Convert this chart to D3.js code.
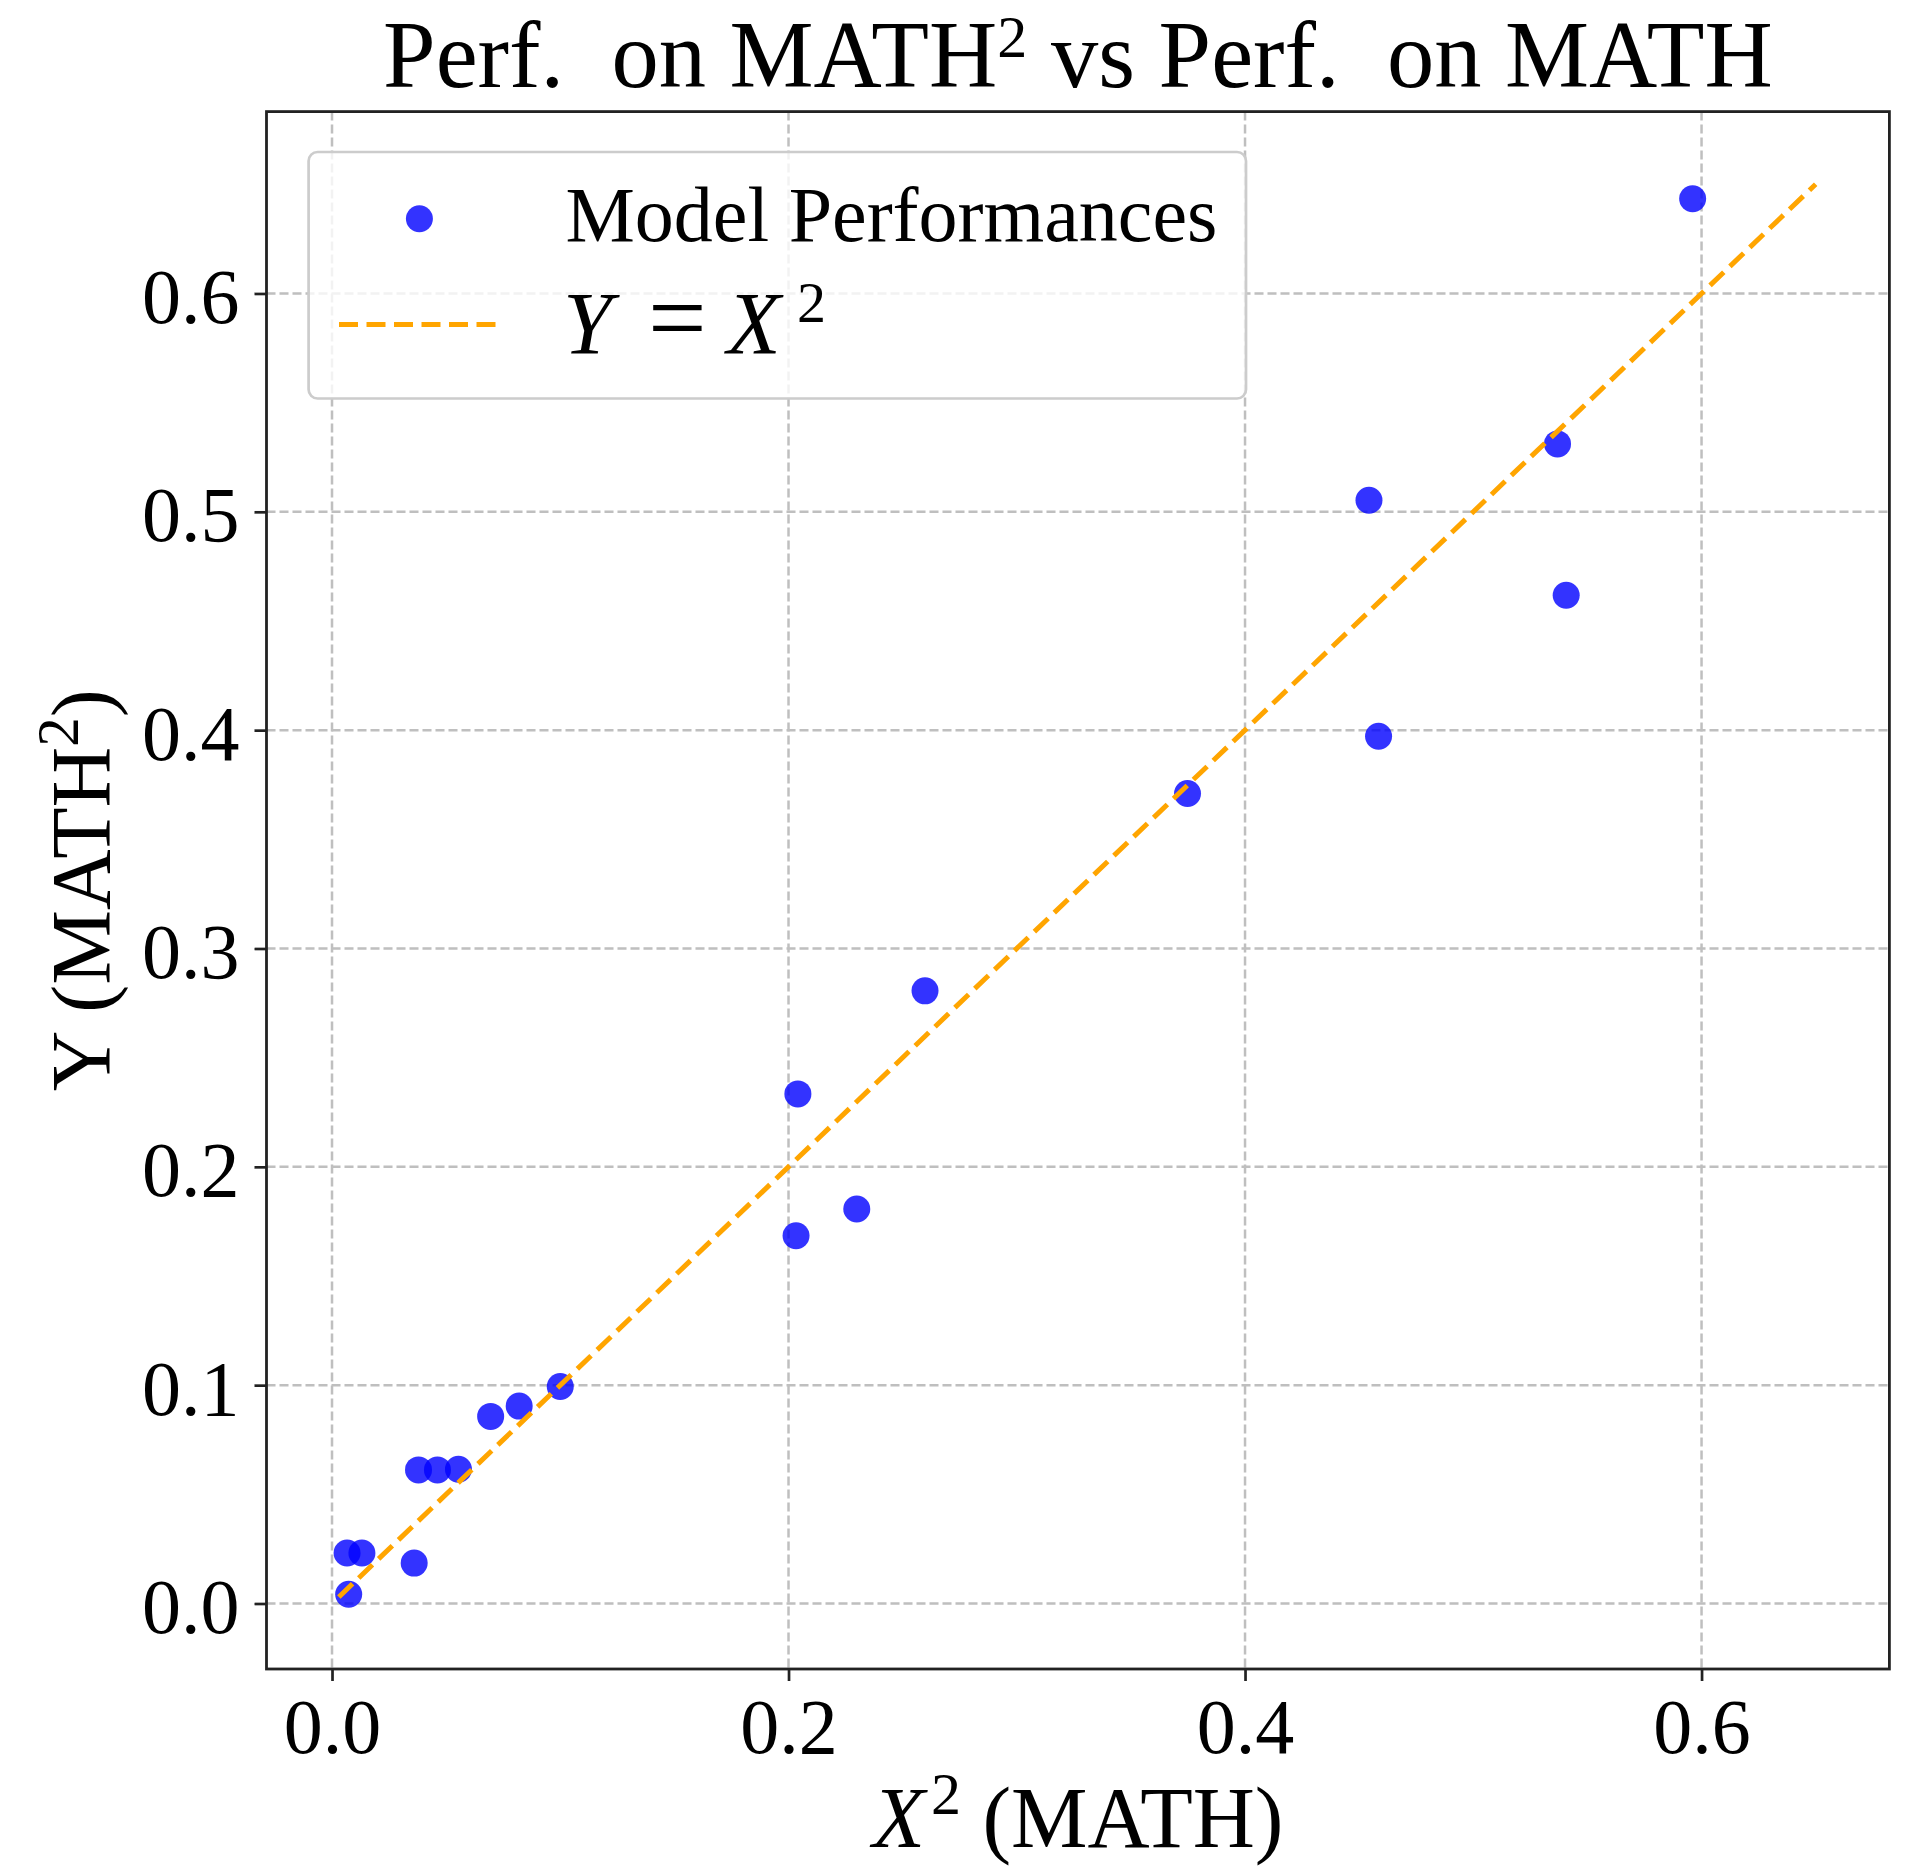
<!DOCTYPE html>
<html>
<head>
<meta charset="utf-8">
<title>Perf. on MATH2 vs Perf. on MATH</title>
<script src="https://d3js.org/d3.v7.min.js"></script>
<style>
  body { margin: 0; background: #fff; }
  text { font-family: "Liberation Serif", "DejaVu Serif", serif; fill: #000; }
</style>
</head>
<body>
<script>
// values
var mathX = [0.0073, 0.0066, 0.0131, 0.0360, 0.0379, 0.0462, 0.0554, 0.0695, 0.0820, 0.1000,
             0.2033, 0.2041, 0.2299, 0.2598, 0.3748, 0.4543, 0.4585, 0.5369, 0.5407, 0.5961];
var math2Y = [0.0042, 0.0231, 0.0231, 0.0185, 0.0612, 0.0612, 0.0615, 0.0857, 0.0904, 0.0994,
              0.1684, 0.2334, 0.1807, 0.2806, 0.3710, 0.5053, 0.3972, 0.5311, 0.4618, 0.6434];
var refLineX = [0.003, 0.65];
var xTicks = [0, 0.2, 0.4, 0.6];
var yTicks = [0, 0.1, 0.2, 0.3, 0.4, 0.5, 0.6];

var W = 1920, H = 1866;
var margin = { top: 111.6, right: 30.6, bottom: 197, left: 266.5 },
    width = W - margin.left - margin.right,
    height = H - margin.top - margin.bottom;

var x = d3.scaleLinear().domain([-0.0287, 0.6823]).range([0, width]);
var y = d3.scaleLinear().domain([-0.0300, 0.6833]).range([height, 0]);

var svg = d3.select("body").append("svg")
    .attr("width", W)
    .attr("height", H);

var g = svg.append("g")
    .attr("transform", "translate(" + margin.left + "," + margin.top + ")");

// grid
var grid = g.append("g")
    .attr("stroke", "#b0b0b0")
    .attr("stroke-width", 2.5)
    .attr("stroke-dasharray", "9,4")
    .attr("opacity", 0.8);
grid.selectAll(".gx").data(xTicks).enter().append("line")
    .attr("x1", function(d) { return x(d); })
    .attr("x2", function(d) { return x(d); })
    .attr("y1", 0).attr("y2", height);
grid.selectAll(".gy").data(yTicks).enter().append("line")
    .attr("y1", function(d) { return y(d); })
    .attr("y2", function(d) { return y(d); })
    .attr("x1", 0).attr("x2", width);

// points
g.selectAll(".pt").data(mathX).enter().append("circle")
    .attr("cx", function(d) { return x(d); })
    .attr("cy", function(d, i) { return y(math2Y[i]); })
    .attr("r", 13.5)
    .attr("fill", "blue")
    .attr("fill-opacity", 0.8);

// Y = X^2 reference
var line = d3.line()
    .x(function(d) { return x(d); })
    .y(function(d) { return y(d); });
g.append("path")
    .datum(refLineX)
    .attr("d", line)
    .attr("fill", "none")
    .attr("stroke", "orange")
    .attr("stroke-width", 5)
    .attr("stroke-dasharray", "19,8.5");

// axes
function styleAxis(sel) {
  sel.select(".domain").remove();
  sel.selectAll(".tick line").attr("stroke", "#222").attr("stroke-width", 2.7);
  sel.selectAll(".tick text")
    .style("font-family", "'Liberation Serif', 'DejaVu Serif', serif")
    .style("font-size", "78px")
    .attr("fill", "#000");
}

g.append("g")
    .attr("transform", "translate(0," + height + ")")
    .call(d3.axisBottom(x).tickValues(xTicks).tickFormat(d3.format(".1f")).tickSize(12).tickPadding(17))
    .call(styleAxis);

g.append("g")
    .call(d3.axisLeft(y).tickValues(yTicks).tickFormat(d3.format(".1f")).tickSize(12).tickPadding(15))
    .call(styleAxis)
    .selectAll(".tick text").attr("dy", "0.37em");

// frame
g.append("rect")
    .attr("width", width)
    .attr("height", height)
    .attr("fill", "none")
    .attr("stroke", "#222")
    .attr("stroke-width", 2.8);

// legend
var lg = svg.append("g");
lg.append("rect")
    .attr("x", 308.6).attr("y", 152)
    .attr("width", 937.4).attr("height", 246.5)
    .attr("rx", 9)
    .attr("fill", "#fff").attr("fill-opacity", 0.8)
    .attr("stroke", "#cccccc").attr("stroke-width", 2.7);
lg.append("circle")
    .attr("cx", 419.4).attr("cy", 218.8).attr("r", 13.5)
    .attr("fill", "blue").attr("fill-opacity", 0.8);
lg.append("line")
    .attr("x1", 339).attr("x2", 500.6)
    .attr("y1", 324.5).attr("y2", 324.5)
    .attr("stroke", "orange").attr("stroke-width", 5)
    .attr("stroke-dasharray", "19,8.5");
lg.append("text")
    .attr("x", 565.5).attr("y", 241)
    .style("font-size", "78px")
    .text("Model Performances");
var eq = lg.append("text")
    .attr("y", 352.7)
    .style("font-size", "88px");
eq.append("tspan").attr("x", 563).attr("font-style", "italic").text("Y");
eq.append("tspan").attr("x", 648).style("font-size", "104px").text("=");
eq.append("tspan").attr("x", 727).attr("font-style", "italic").text("X");
eq.append("tspan").attr("x", 797).attr("dy", -31).style("font-size", "58px").text("2");

// title
var title = svg.append("text")
    .attr("x", margin.left + width / 2).attr("y", 87)
    .attr("text-anchor", "middle")
    .style("white-space", "pre")
    .style("font-size", "94.5px");
title.append("tspan").text("Perf.  on MATH");
title.append("tspan").attr("dy", -30).style("font-size", "60px").text("2");
title.append("tspan").attr("dy", 30).text(" vs Perf.  on MATH");

// x label
var xl = svg.append("text")
    .attr("x", margin.left + width / 2).attr("y", 1847)
    .attr("text-anchor", "middle")
    .style("font-size", "86px");
xl.append("tspan").attr("font-style", "italic").text("X");
xl.append("tspan").attr("dy", -33).attr("dx", 6).style("font-size", "60px").text("2");
xl.append("tspan").attr("dy", 33).text(" (MATH)");

// y label
var yl = svg.append("text")
    .attr("transform", "translate(110," + (margin.top + height / 2) + ") rotate(-90)")
    .attr("text-anchor", "middle")
    .style("font-size", "84px");
yl.append("tspan").text("Y (MATH");
yl.append("tspan").attr("dy", -32).style("font-size", "59px").text("2");
yl.append("tspan").attr("dy", 32).text(")");
</script>
</body>
</html>
